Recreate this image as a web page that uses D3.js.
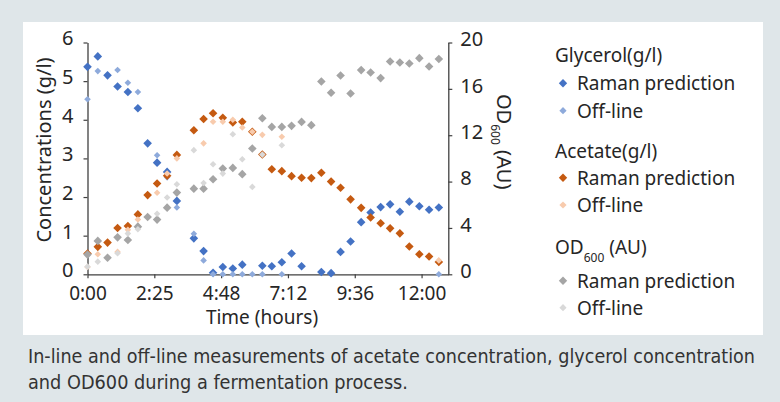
<!DOCTYPE html>
<html><head><meta charset="utf-8">
<script src="https://cdn.jsdelivr.net/npm/d3@7"></script>
<style>html,body{margin:0;padding:0;background:#dfe6e9;} svg{display:block}</style>
</head><body>
<svg id="c" width="780" height="402"></svg>
<script>
// ---- data (time in hours) ----
const times = [0, 0.37, 0.72, 1.08, 1.45, 1.81, 2.16, 2.50, 2.86, 3.21, 3.82, 4.17, 4.51, 4.86, 5.22, 5.56, 5.92, 6.28,
  6.62, 6.98, 7.33, 7.69, 8.04, 8.40, 8.75, 9.09, 9.45, 9.83, 10.17, 10.53, 10.87, 11.22, 11.56, 11.92, 12.27, 12.62];
const glycerolRaman = [5.37, 5.64, 5.15, 4.86, 4.72, 4.30, 3.39, 2.89, 2.65, 1.90, 0.93, 0.60, 0.04, 0.19, 0.15, 0.25, null, 0.22,
  0.21, 0.31, 0.54, 0.21, null, 0.06, 0.03, 0.58, 0.85, 1.35, 1.60, 1.74, 1.81, 1.62, 1.88, 1.76, 1.67, 1.73];
const glycerolOffline = [4.53, 5.26, null, 5.29, 4.96, 4.72, null, 3.08, 2.51, 1.73, 1.05, 0.36, 0, 0, 0, 0, 0, 0,
  null, 0, null, null, null, null, null, null, null, null, null, null, null, null, null, null, null, 0];
const acetateRaman = [0.54, 0.71, 0.82, 1.20, 1.25, 1.55, 2.05, 2.35, 2.55, 3.09, 3.73, 4.02, 4.17, 4.05, 3.93, 3.95, 3.69, 3.10,
  2.72, 2.67, 2.54, 2.50, 2.49, 2.63, 2.40, 2.24, 1.94, 1.72, 1.47, 1.32, 1.19, 1.06, 0.72, 0.52, 0.46, 0.32];
const acetateOffline = [0.19, 0.52, null, 0.58, 1.15, 1.42, null, 2.11, 2.61, 3.00, null, 3.39, 3.95, 3.95, 4.00, 3.80, 3.69, 3.61,
  null, 3.56, null, null, null, null, null, null, null, null, null, null, null, null, null, null, null, 0.36];
const odRaman = [1.70, 2.88, 1.43, 3.19, 2.96, 4.11, 4.95, 4.72, 5.75, 7.05, 7.39, 7.39, 8.20, 9.12, 9.18, 8.64, 10.85, 13.47,
  12.72, 12.72, 12.81, 13.15, 12.87, 16.63, 15.66, 17.15, 15.60, 17.62, 17.41, 16.93, 18.36, 18.27, 18.19, 18.65, 17.93, 18.57];
const odOffline = [0.66, 1.09, null, 1.81, 3.51, 3.89, null, 5.23, 6.62, 7.77, 10.71, 7.88, 9.50, 8.69, 12.09, 9.93, 7.54, 10.33,
  null, 11.14, null, null, null, null, null, null, null, null, null, null, null, null, null, null, null, null];

const xTickValues = [0, 2.4, 4.8, 7.2, 9.6, 12.0];
const xTickLabels = ["0:00", "2:25", "4:48", "7:12", "9:36", "12:00"];
const leftTicks = [0, 1, 2, 3, 4, 5, 6];
const rightTicks = [0, 4, 8, 12, 16, 20];
const groupTitles = ["Glycerol(g/l)", "Acetate(g/l)", "OD"];
const itemLabels = ["Raman prediction", "Off-line"];
const captionLines = ["In-line and off-line measurements of acetate concentration, glycerol concentration",
  "and OD600 during a fermentation process."];

// ---- layout ----
const svg = d3.select("#c");
const FONT = "'Noto Sans', 'Open Sans', sans-serif";
const TXT = "#262626";
svg.append("rect").attr("x", 0).attr("y", 0).attr("width", 780).attr("height", 402).attr("fill", "#dfe6e9");
svg.append("rect").attr("x", 23).attr("y", 22).attr("width", 740).attr("height", 313).attr("fill", "#ffffff");

const X0 = 87.5, X1 = 448.3, Y0 = 274.3, Y1 = 42.5;
const x = d3.scaleLinear().domain([0, 12.96]).range([X0, X1]);
const yL = d3.scaleLinear().domain([0, 6]).range([Y0, Y1]);
const yR = d3.scaleLinear().domain([0, 20]).range([Y0, Y1]);

function styleAxis(g, fs) {
  g.select(".domain").attr("stroke", "#404040").attr("stroke-width", 1.3);
  g.selectAll(".tick line").attr("stroke", "#404040").attr("stroke-width", 1.2);
  g.selectAll(".tick text").attr("fill", TXT).style("font-family", FONT).style("font-size", fs);
}

const gx = svg.append("g").attr("transform", `translate(0,${Y0})`)
  .call(d3.axisBottom(x).tickValues(xTickValues).tickSize(4).tickPadding(8).tickSizeOuter(0)
    .tickFormat((d, i) => xTickLabels[i]));
styleAxis(gx, "19px");

const gl = svg.append("g").attr("transform", `translate(${X0},0)`)
  .call(d3.axisLeft(yL).tickValues(leftTicks).tickSize(4).tickPadding(10).tickSizeOuter(0).tickFormat(d3.format("d")));
styleAxis(gl, "20px");
gl.selectAll(".tick text").attr("y", -4);

const gr = svg.append("g").attr("transform", `translate(${X1},0)`)
  .call(d3.axisRight(yR).tickValues(rightTicks).tickSize(4).tickPadding(8).tickSizeOuter(0).tickFormat(d3.format("d")));
styleAxis(gr, "20px");
gr.selectAll(".tick text").attr("y", -3);

// axis titles
svg.append("text").attr("transform", "translate(51,150) rotate(-90)").attr("text-anchor", "middle")
  .attr("fill", TXT).style("font-family", FONT).style("font-size", "20px").text("Concentrations (g/l)");
svg.append("text").attr("x", 262).attr("y", 324).attr("text-anchor", "middle")
  .attr("fill", TXT).style("font-family", FONT).style("font-size", "19px").text("Time (hours)");
const rt = svg.append("text").attr("transform", "translate(497,94) rotate(90)")
  .attr("fill", TXT).style("font-family", FONT).style("font-size", "20px");
rt.append("tspan").text("OD");
rt.append("tspan").attr("dy", 6).style("font-size", "12px").text("600");
rt.append("tspan").attr("dy", -6).text(" (AU)");

// ---- markers ----
const diamond = r => `M0,${-r}L${r},0L0,${r}L${-r},0Z`;
const series = [
  { v: glycerolRaman, s: yL, c: "#4472c4", r: 4.3 },
  { v: glycerolOffline, s: yL, c: "#8eaadb", r: 3.3 },
  { v: acetateRaman, s: yL, c: "#c55a11", r: 4.3 },
  { v: acetateOffline, s: yL, c: "#f8cbad", r: 3.3 },
  { v: odRaman, s: yR, c: "#a5a5a5", r: 4.3 },
  { v: odOffline, s: yR, c: "#d9d9d9", r: 3.3 }
];
series.forEach(se => {
  const pts = times.map((t, i) => ({ t, v: se.v[i] })).filter(d => d.v !== null);
  svg.append("g").selectAll("path").data(pts).join("path")
    .attr("d", diamond(se.r)).attr("fill", se.c)
    .attr("transform", d => `translate(${x(d.t)},${se.s(d.v)})`);
});

// ---- legend ----
const legTitleY = [61.7, 157.7, 254];
const legItemY = [[83.3, 110.7], [177.7, 205], [280.7, 307.7]];
groupTitles.forEach((gt, gi) => {
  const t = svg.append("text").attr("x", 555).attr("y", legTitleY[gi]).attr("fill", TXT)
    .style("font-family", FONT).style("font-size", "19px");
  if (gi === 2) {
    t.append("tspan").text("OD");
    t.append("tspan").attr("dy", 8).style("font-size", "12px").text("600");
    t.append("tspan").attr("dy", -8).text(" (AU)");
  } else t.text(gt);
  itemLabels.forEach((lab, k) => {
    const se = series[gi * 2 + k];
    svg.append("path").attr("d", diamond(k === 0 ? 4.2 : 3.6)).attr("fill", se.c)
      .attr("transform", `translate(563,${legItemY[gi][k]})`);
    svg.append("text").attr("x", 577).attr("y", legItemY[gi][k] + 6.8).attr("fill", TXT)
      .style("font-family", FONT).style("font-size", "19px").text(lab);
  });
});

// ---- caption ----
const capLen = [727, 380];
captionLines.forEach((l, i) => {
  svg.append("text").attr("x", 28).attr("y", 363 + i * 26).attr("fill", "#333")
    .style("font-family", "'Liberation Sans Narrow', 'DejaVu Sans Condensed', 'Noto Sans', sans-serif")
    .style("font-size", "19px")
    .attr("textLength", capLen[i]).attr("lengthAdjust", "spacingAndGlyphs").text(l);
});
</script>
</body></html>
